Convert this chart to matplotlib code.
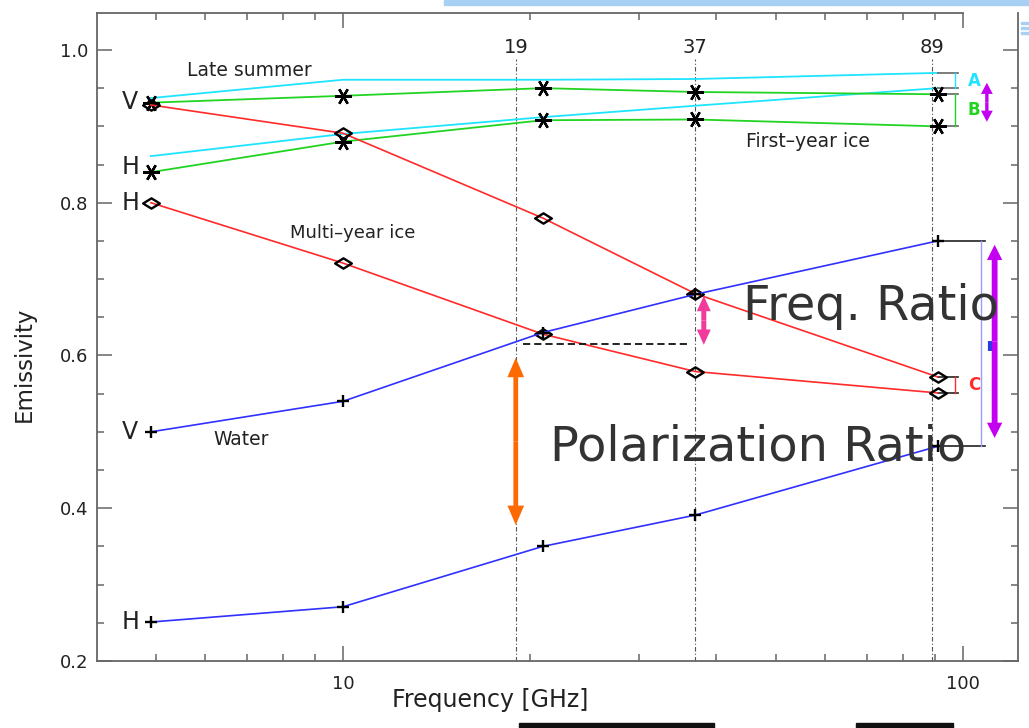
import matplotlib
matplotlib.use("Agg")
import matplotlib.pyplot as plt
from matplotlib.path import Path
from matplotlib.patches import FancyArrowPatch, ArrowStyle, Rectangle
from matplotlib.ticker import FixedLocator, NullFormatter, MultipleLocator

# Channel frequencies [GHz] of the sampled emissivities
freq = [4.9, 10.0, 21.0, 37.0, 91.0]

# Emissivity spectra (V / H polarisation)
summer_v = [0.937, 0.961, 0.961, 0.962, 0.970]
summer_h = [0.861, 0.890, 0.912, 0.927, 0.950]
fy_v = [0.931, 0.940, 0.950, 0.945, 0.942]
fy_h = [0.840, 0.880, 0.908, 0.909, 0.900]
my_v = [0.928, 0.891, 0.780, 0.681, 0.572]
my_h = [0.800, 0.721, 0.628, 0.579, 0.551]
water_v = [0.500, 0.540, 0.630, 0.680, 0.750]
water_h = [0.251, 0.271, 0.350, 0.391, 0.481]

# Radiometer channels marked by vertical guides
channels = [19, 37, 89]
channel_labels = ["19", "37", "89"]

yticks = [0.2, 0.4, 0.6, 0.8, 1.0]
ytick_labels = ["0.2", "0.4", "0.6", "0.8", "1.0"]
xticks = [10, 100]
xtick_labels = ["10", "100"]
xminor = [5, 6, 7, 8, 9, 20, 30, 40, 50, 60, 70, 80, 90]

# Ratio illustration levels
pr_gap = (0.597, 0.378)      # polarization ratio arrow at 19 GHz
fr_gap = (0.678, 0.614)      # frequency ratio arrow near 37 GHz
gr_level = 0.615             # dashed reference level
d_arrow = (0.745, 0.492)
ab_arrow = (0.957, 0.906)

CYAN = "#1fe4ff"
GREEN = "#22d422"
RED = "#ff2a2a"
BLUE = "#3030ff"
TXT = "#222222"

fig = plt.figure(figsize=(10.29, 7.28), dpi=100)
ax = fig.add_axes([97 / 1029, 1 - 661 / 728, 921 / 1029, 648 / 728])
ax.set_xscale("log")
ax.set_xlim(4.0115, 122.7)
ax.set_ylim(0.2, 1.0484)

# axes frame and ticks
for side in ["left", "right", "top", "bottom"]:
    ax.spines[side].set_color("#666666")
    ax.spines[side].set_linewidth(1.3)
ax.spines["top"].set_bounds(4.0115, 100)

ax.xaxis.set_major_locator(FixedLocator(xticks))
ax.set_xticklabels(xtick_labels)
ax.xaxis.set_minor_locator(FixedLocator(xminor))
ax.xaxis.set_minor_formatter(NullFormatter())
ax.yaxis.set_major_locator(FixedLocator(yticks))
ax.set_yticklabels(ytick_labels)
ax.yaxis.set_minor_locator(MultipleLocator(0.05))
ax.tick_params(which="both", direction="in", top=True, right=True,
               color="#666666", width=1.1)
ax.tick_params(which="major", length=11, labelsize=13, labelcolor=TXT)
ax.tick_params(axis="y", which="major", pad=6)
ax.tick_params(axis="x", which="major", pad=10)
ax.tick_params(which="minor", length=5)

# channel guides
for c, lab in zip(channels, channel_labels):
    ax.plot([c, c], [0.2, 0.988], color="#555555", lw=0.8,
            ls=(0, (4, 2, 1, 2)), zorder=1)
    ax.text(c, 1.003, lab, ha="center", va="center", fontsize=14, color=TXT)

star = (6, 2, 90)
diamond = Path([(-1, 0), (0, 0.62), (1, 0), (0, -0.62), (-1, 0)],
               [Path.MOVETO, Path.LINETO, Path.LINETO, Path.LINETO, Path.CLOSEPOLY])

ax.plot(freq, summer_v, color=CYAN, lw=1.3, zorder=2)
ax.plot(freq, summer_h, color=CYAN, lw=1.3, zorder=2)
for ys in (fy_v, fy_h):
    ax.plot(freq, ys, color=GREEN, lw=1.3, zorder=3, marker=star, ms=12,
            mec="k", mew=1.7)
for ys in (my_v, my_h):
    ax.plot(freq, ys, color=RED, lw=1.2, zorder=3, marker=diamond, ms=12,
            mec="k", mfc="none", mew=1.7)
for ys in (water_v, water_h):
    ax.plot(freq, ys, color=BLUE, lw=1.2, zorder=3, marker="+", ms=9,
            mec="k", mew=1.7)

# polarisation tags at the lowest channel
for lab, y in [("V", 0.932), ("H", 0.847), ("H", 0.800), ("V", 0.500), ("H", 0.251)]:
    ax.text(4.54, y, lab, ha="center", va="center", fontsize=17, color=TXT)

# surface-type labels
ax.text(5.6, 0.973, "Late summer", ha="left", va="center", fontsize=13.5, color=TXT)
ax.text(8.2, 0.761, "Multi\u2013year ice", ha="left", va="center", fontsize=13, color=TXT)
ax.text(44.7, 0.880, "First\u2013year ice", ha="left", va="center", fontsize=13.5, color=TXT)
ax.text(6.17, 0.490, "Water", ha="left", va="center", fontsize=13.5, color=TXT)


def double_arrow(x, y0, y1, color, tail, head_w, head_l):
    mid = 0.5 * (y0 + y1)
    style = ArrowStyle("simple", head_length=head_l, head_width=head_w,
                       tail_width=tail)
    for end in (y0, y1):
        ax.add_patch(FancyArrowPatch((x, mid), (x, end), arrowstyle=style,
                                     mutation_scale=1, color=color, lw=0,
                                     shrinkA=0, shrinkB=0, zorder=5))


double_arrow(19, pr_gap[0], pr_gap[1], "#ff6a00", 3.4, 12, 14)
double_arrow(38.2, fr_gap[0], fr_gap[1], "#f2399c", 3.6, 10, 11)
double_arrow(112.5, d_arrow[0], d_arrow[1], "#c400f2", 4.2, 11, 11)
double_arrow(109.3, ab_arrow[0], ab_arrow[1], "#c400f2", 2.4, 8.5, 8)

ax.plot([19.5, 36.3], [gr_level, gr_level], color="#111111", lw=1.3,
        ls=(0, (4, 2.2)), zorder=4)


def bracket(top, bottom, color, label, x_end=98.2, x_bar=97.0, x_lab=101.8,
            tick_color="#666666"):
    ax.plot([freq[-1], x_end], [top, top], color=tick_color, lw=1.2, zorder=2)
    ax.plot([freq[-1], x_end], [bottom, bottom], color=tick_color, lw=1.2, zorder=2)
    ax.plot([x_bar, x_bar], [top, bottom], color=color, lw=1.0, zorder=2)
    if label:
        ax.text(x_lab, 0.5 * (top + bottom), label, color=color,
                fontweight="bold", fontsize=12, ha="left", va="center")


bracket(summer_v[-1], summer_h[-1], CYAN, "A")
bracket(fy_v[-1], fy_h[-1], GREEN, "B")
bracket(my_v[-1], my_h[-1], RED, "C", tick_color="#222222")
bracket(water_v[-1], water_h[-1], "#9a9aff", None, x_end=108.4, x_bar=107.0,
        tick_color="#222222")
ax.plot([110.5, 110.5], [0.606, 0.619], color="#2040e0", lw=3, solid_capstyle="butt")

# large ratio captions
ax.text(44.2, 0.647, "Freq. Ratio", fontsize=34.5, color="#333333",
        ha="left", va="baseline", zorder=6)
ax.text(21.6, 0.462, "Polarization Ratio", fontsize=34.5, color="#333333",
        ha="left", va="baseline", zorder=6)

fig.text(24 / 1029, 1 - 364 / 728, "Emissivity", rotation=90, fontsize=16.5,
         color=TXT, ha="center", va="center")
fig.text(490 / 1029, 1 - 700 / 728, "Frequency [GHz]", fontsize=17,
         color=TXT, ha="center", va="center")

# slide furniture around the figure
fig.patches.append(Rectangle((444 / 1029, 1 - 5 / 728), 585 / 1029, 5 / 728,
                             transform=fig.transFigure, color="#a8d0f5", zorder=0))
for yy in (24, 29, 34):
    fig.patches.append(Rectangle((1021 / 1029, 1 - yy / 728), 8 / 1029, 2 / 728,
                                 transform=fig.transFigure, color="#a8d0f5"))
for x0, x1 in [(519, 714), (856, 953)]:
    fig.patches.append(Rectangle((x0 / 1029, 0), (x1 - x0) / 1029, 5 / 728,
                                 transform=fig.transFigure, color="#111111"))

fig.savefig("out.png", dpi=100)
